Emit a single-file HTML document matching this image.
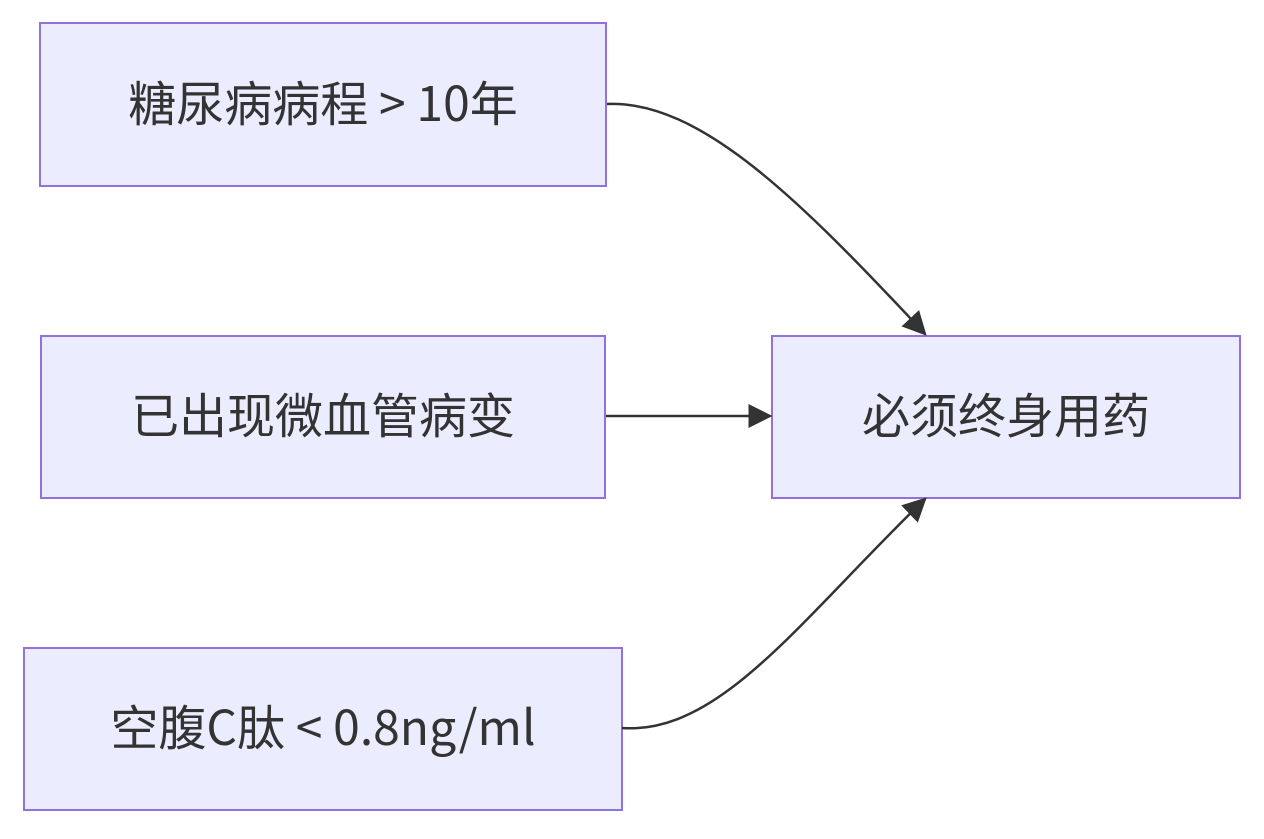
<!DOCTYPE html>
<html><head><meta charset="utf-8"><style>
html,body{margin:0;padding:0;background:#fff;}
text{font-family:"Noto Sans CJK SC","Liberation Sans",sans-serif;font-size:48px;fill:#333;}
</style></head><body>
<svg width="1264" height="834" viewBox="0 0 1264 834" xmlns="http://www.w3.org/2000/svg">
<defs>
<marker id="b" viewBox="0 0 10 10" refX="9" refY="5" markerWidth="24" markerHeight="24" markerUnits="userSpaceOnUse" orient="auto"><path d="M0,0 L10,5 L0,10 z" fill="#333"/></marker></defs>
<g fill="#ECECFF" stroke="#9370DB" stroke-width="2">
<rect x="40" y="23" width="566" height="163"/>
<rect x="41" y="336" width="564" height="162"/>
<rect x="24" y="648" width="598" height="162"/>
<rect x="772" y="336" width="468" height="162"/>
</g>
<g fill="none" stroke="#333" stroke-width="2.5">
<path d="M607,104 C700,100 800,200 925,334" marker-end="url(#b)"/>
<path d="M606,416 L770,416" marker-end="url(#b)"/>
<path d="M622,728 C720,735 800,620 925,499" marker-end="url(#b)"/>
</g>
<text x="323" y="121" text-anchor="middle">糖尿病病程 &gt; 10年</text>
<text x="323" y="433" text-anchor="middle">已出现微血管病变</text>
<text x="323" y="745" text-anchor="middle">空腹C肽 &lt; 0.8ng/ml</text>
<text x="1006" y="433" text-anchor="middle">必须终身用药</text>
</svg>
</body></html>
